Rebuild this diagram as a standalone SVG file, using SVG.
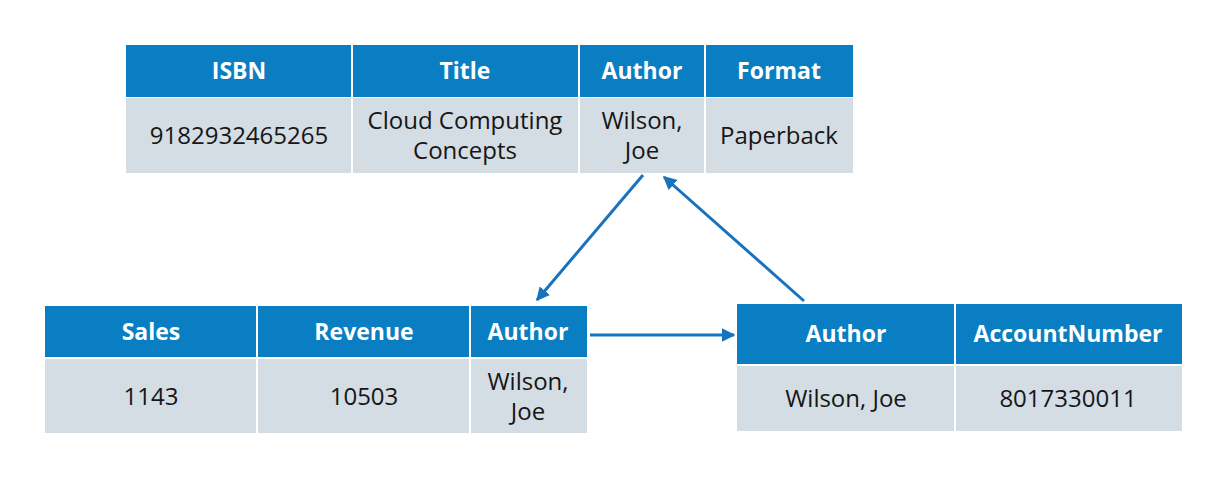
<svg xmlns="http://www.w3.org/2000/svg" width="1212" height="488" viewBox="0 0 1212 488">
  <style>
    .hd { fill: #0A7EC2; }
    .bd { fill: #D4DCE4; }
    .sep { stroke: #ffffff; stroke-width: 2; }
    .ht { font-family: "Open Sans", "Noto Sans", sans-serif; font-weight: bold; font-size: 23px; fill: #ffffff; text-anchor: middle; }
    .bt { font-family: "Open Sans", "Noto Sans", sans-serif; font-size: 24px; fill: #161616; text-anchor: middle; }
    .conn { stroke: #1873BE; stroke-width: 3; fill: none; marker-end: url(#arrow); }
  </style>
  <defs>
    <marker id="arrow" viewBox="0 0 10 10" refX="9" refY="5" markerWidth="4.5" markerHeight="4.5" orient="auto" markerUnits="strokeWidth">
      <path d="M0,0 L10,5 L0,10 z" fill="#1873BE"/>
    </marker>
  </defs>
  <rect width="1212" height="488" fill="#ffffff"/>

  <!-- Book table -->
  <g id="books">
    <rect class="hd" x="126" y="45" width="727" height="52"/>
    <rect class="bd" x="126" y="98" width="727" height="75"/>
    <line class="sep" x1="352" y1="45" x2="352" y2="173"/>
    <line class="sep" x1="579" y1="45" x2="579" y2="173"/>
    <line class="sep" x1="705" y1="45" x2="705" y2="173"/>
    <text class="ht" x="239" y="79">ISBN</text>
    <text class="ht" x="465" y="79">Title</text>
    <text class="ht" x="642" y="79">Author</text>
    <text class="ht" x="779" y="79">Format</text>
    <text class="bt" x="239" y="144">9182932465265</text>
    <text class="bt" x="465" y="129">Cloud Computing</text>
    <text class="bt" x="465" y="159">Concepts</text>
    <text class="bt" x="642" y="129">Wilson,</text>
    <text class="bt" x="642" y="159">Joe</text>
    <text class="bt" x="779" y="144">Paperback</text>
  </g>

  <!-- Sales table -->
  <g id="sales">
    <rect class="hd" x="45" y="306" width="542" height="51"/>
    <rect class="bd" x="45" y="359" width="542" height="74"/>
    <line class="sep" x1="257" y1="306" x2="257" y2="433"/>
    <line class="sep" x1="470" y1="306" x2="470" y2="433"/>
    <text class="ht" x="151" y="340">Sales</text>
    <text class="ht" x="364" y="340">Revenue</text>
    <text class="ht" x="528" y="340">Author</text>
    <text class="bt" x="151" y="405">1143</text>
    <text class="bt" x="364" y="405">10503</text>
    <text class="bt" x="528" y="390">Wilson,</text>
    <text class="bt" x="528" y="420">Joe</text>
  </g>

  <!-- Account table -->
  <g id="accounts">
    <rect class="hd" x="737" y="304" width="445" height="60"/>
    <rect class="bd" x="737" y="366" width="445" height="65"/>
    <line class="sep" x1="955" y1="304" x2="955" y2="431"/>
    <text class="ht" x="846" y="342">Author</text>
    <text class="ht" x="1068" y="342">AccountNumber</text>
    <text class="bt" x="846" y="407">Wilson, Joe</text>
    <text class="bt" x="1068" y="407">8017330011</text>
  </g>

  <!-- Connectors -->
  <g id="connectors">
    <line class="conn" x1="643" y1="175" x2="537" y2="300"/>
    <line class="conn" x1="590" y1="335" x2="734" y2="335"/>
    <line class="conn" x1="804" y1="301" x2="664" y2="177"/>
  </g>
</svg>
